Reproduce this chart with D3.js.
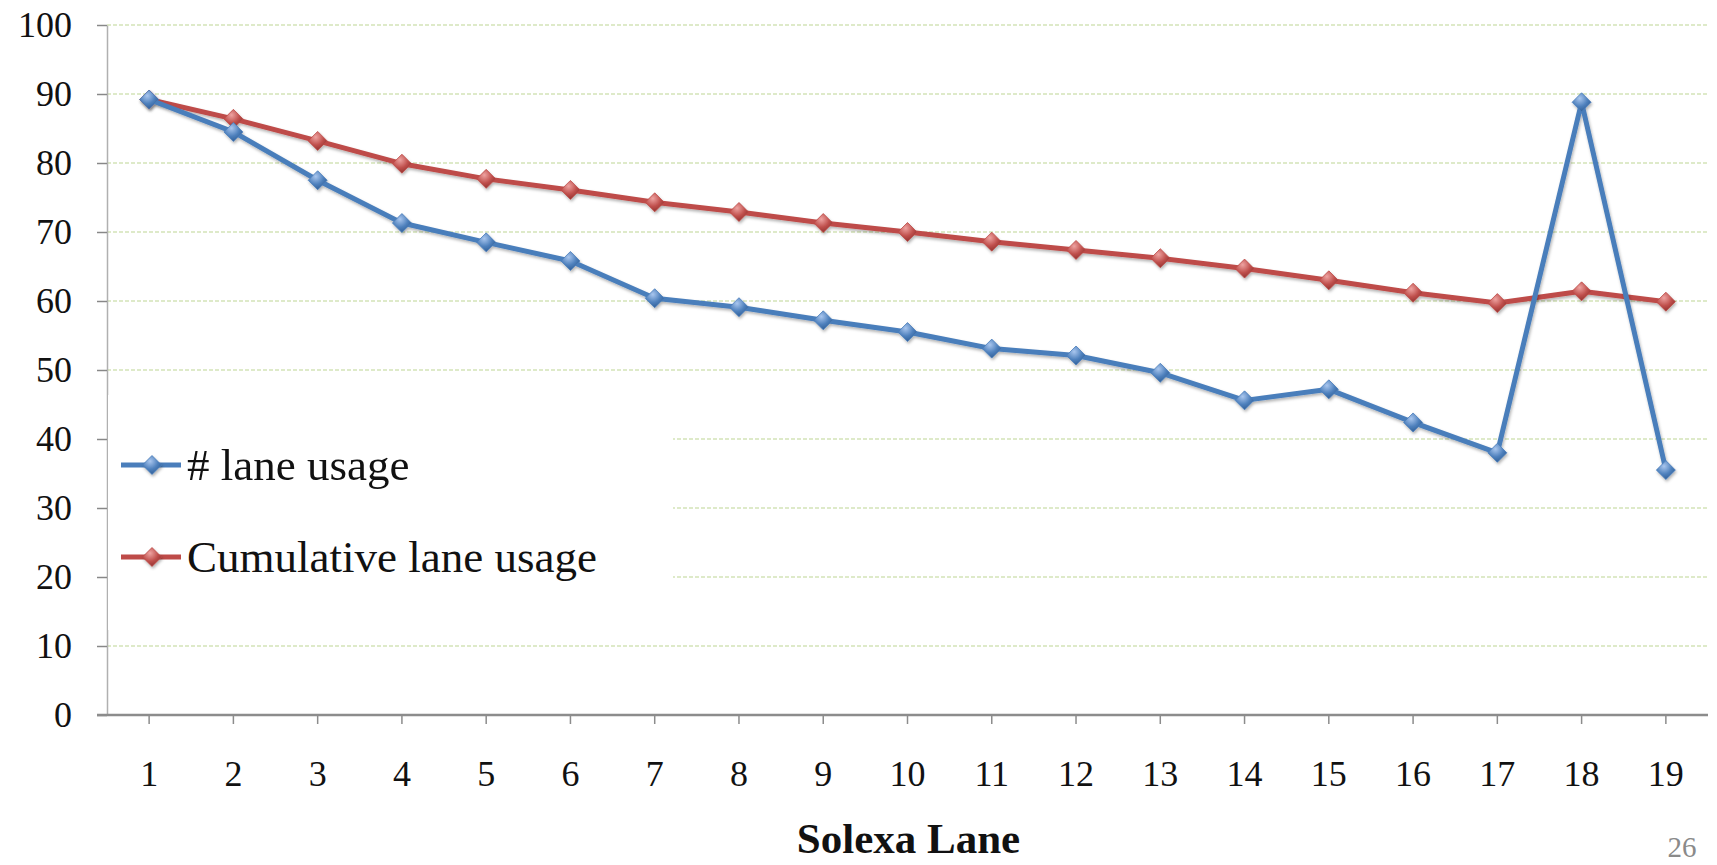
<!DOCTYPE html>
<html>
<head>
<meta charset="utf-8">
<script src="https://cdn.jsdelivr.net/npm/d3@7"></script>
<style>
  body { margin: 0; background: #fff; }
  svg { display: block; }
  text { font-family: "Liberation Serif", "Times New Roman", serif; }
</style>
</head>
<body>
<div id="chart"></div>
<script>
// Data
var lanes = ["1","2","3","4","5","6","7","8","9","10","11","12","13","14","15","16","17","18","19"];
var laneUsage = [89.2, 84.5, 77.5, 71.3, 68.5, 65.8, 60.4, 59.1, 57.2, 55.5, 53.1, 52.1, 49.6, 45.6, 47.2, 42.4, 38.0, 88.8, 35.5];
var cumulativeUsage = [89.2, 86.4, 83.2, 79.9, 77.7, 76.1, 74.3, 72.9, 71.3, 70.0, 68.6, 67.4, 66.2, 64.7, 63.0, 61.2, 59.7, 61.4, 59.9];
var yTicks = [0, 10, 20, 30, 40, 50, 60, 70, 80, 90, 100];
var seriesNames = ["# lane usage", "Cumulative lane usage"];

var svgWidth = 1717;
var svgHeight = 865;

// plot area
var plot = { left: 107, right: 1708, top: 25, bottom: 715 };

var svg = d3.select("#chart")
  .append("svg")
  .attr("width", svgWidth)
  .attr("height", svgHeight);

var defs = svg.append("defs");

// marker gradients
function addGradient(id, light, mid, dark) {
  var g = defs.append("radialGradient")
    .attr("id", id)
    .attr("cx", "40%").attr("cy", "30%").attr("r", "75%");
  g.append("stop").attr("offset", "0%").attr("stop-color", light);
  g.append("stop").attr("offset", "55%").attr("stop-color", mid);
  g.append("stop").attr("offset", "100%").attr("stop-color", dark);
}
addGradient("gradBlue", "#a9c6ee", "#4f81bd", "#2c5a92");
addGradient("gradRed", "#eea3a1", "#c0504d", "#8c2e2b");

var shadow = defs.append("filter").attr("id", "shadow")
  .attr("x", "-10%").attr("y", "-10%").attr("width", "130%").attr("height", "130%");
shadow.append("feDropShadow")
  .attr("dx", 1).attr("dy", 2).attr("stdDeviation", 1.6)
  .attr("flood-color", "#000").attr("flood-opacity", 0.3);

// scales
var x = d3.scaleBand()
  .domain(lanes)
  .range([plot.left, plot.right])
  .padding(0);

var y = d3.scaleLinear()
  .domain([0, 100])
  .range([plot.bottom, plot.top]);

function cx(d, i) { return x(lanes[i]) + x.bandwidth() / 2; }

// gridlines
svg.append("g")
  .selectAll("line")
  .data(yTicks.filter(d => d > 0))
  .enter()
  .append("line")
  .attr("x1", plot.left)
  .attr("x2", plot.right)
  .attr("y1", d => y(d))
  .attr("y2", d => y(d))
  .attr("stroke", "#d3e3b8")
  .attr("stroke-width", 1.3)
  .attr("stroke-dasharray", "4,2");

// y axis
var leftAxis = d3.axisLeft(y).tickValues(yTicks).tickSize(10).tickSizeOuter(0).tickPadding(25);
var yAxis = svg.append("g")
  .attr("transform", `translate(${plot.left},0)`)
  .call(leftAxis);
yAxis.select(".domain").attr("stroke", "#b0b0b0").attr("stroke-width", 1.5);
yAxis.selectAll(".tick line").attr("stroke", "#888").attr("stroke-width", 1.5);
yAxis.selectAll(".tick text")
  .style("font-family", "'Liberation Serif', serif")
  .style("font-size", "36px")
  .attr("fill", "#111");

// x axis
var bottomAxis = d3.axisBottom(x).tickSize(9).tickSizeOuter(0).tickPadding(36);
var xAxis = svg.append("g")
  .attr("transform", `translate(0,${plot.bottom})`)
  .call(bottomAxis);
xAxis.select(".domain").remove();
xAxis.append("line")
  .attr("x1", plot.left - 10)
  .attr("x2", plot.right)
  .attr("y1", 0).attr("y2", 0)
  .attr("stroke", "#8c8c8c")
  .attr("stroke-width", 2.5);
xAxis.selectAll(".tick line").attr("stroke", "#8c8c8c").attr("stroke-width", 1.5);
xAxis.selectAll(".tick text")
  .style("font-family", "'Liberation Serif', serif")
  .style("font-size", "36px")
  .attr("fill", "#111");

// legend background hides part of the gridlines
svg.append("rect")
  .attr("x", plot.left + 1)
  .attr("y", 395)
  .attr("width", 673 - plot.left - 1)
  .attr("height", 235)
  .attr("fill", "#fff");

function diamond(r) {
  return `M0,${-r}L${r},0L0,${r}L${-r},0Z`;
}

// series
var series = [
  { name: seriesNames[0], values: laneUsage, color: "#4a7ebb", grad: "url(#gradBlue)" },
  { name: seriesNames[1], values: cumulativeUsage, color: "#be4b48", grad: "url(#gradRed)" }
];

var line = d3.line()
  .x((d, i) => cx(d, i))
  .y(d => y(d));

// cumulative first, blue on top
series.slice().reverse().forEach(function(s) {
  var g = svg.append("g").attr("filter", "url(#shadow)");
  g.append("path")
    .datum(s.values)
    .attr("d", line)
    .attr("fill", "none")
    .attr("stroke", s.color)
    .attr("stroke-width", 5)
    .attr("stroke-linejoin", "round");
  g.selectAll(".marker")
    .data(s.values)
    .enter()
    .append("path")
    .attr("class", "marker")
    .attr("d", diamond(9.5))
    .attr("transform", (d, i) => `translate(${cx(d, i)},${y(d)})`)
    .attr("fill", s.grad)
    .attr("stroke", s.color)
    .attr("stroke-width", 0.8);
});

// legend
var legendRows = [465, 557];
series.forEach(function(s, i) {
  var lg = svg.append("g").attr("transform", `translate(0,${legendRows[i]})`);
  lg.append("line")
    .attr("x1", 121).attr("x2", 181)
    .attr("y1", 0).attr("y2", 0)
    .attr("stroke", s.color)
    .attr("stroke-width", 5);
  lg.append("path")
    .attr("d", diamond(9.5))
    .attr("transform", "translate(152,0)")
    .attr("fill", s.grad)
    .attr("stroke", s.color)
    .attr("stroke-width", 0.8)
    .attr("filter", "url(#shadow)");
  lg.append("text")
    .attr("x", 187)
    .attr("y", 15)
    .style("font-size", "45px")
    .attr("fill", "#111")
    .text(s.name);
});

// axis title
svg.append("text")
  .attr("x", (plot.left + plot.right) / 2 + 1)
  .attr("y", 853)
  .attr("text-anchor", "middle")
  .style("font-size", "43px")
  .style("font-weight", "bold")
  .attr("fill", "#111")
  .text("Solexa Lane");

// slide number
svg.append("text")
  .attr("x", 1682)
  .attr("y", 857)
  .attr("text-anchor", "middle")
  .style("font-size", "29px")
  .attr("fill", "#8a8a8a")
  .text("26");
</script>
</body>
</html>
